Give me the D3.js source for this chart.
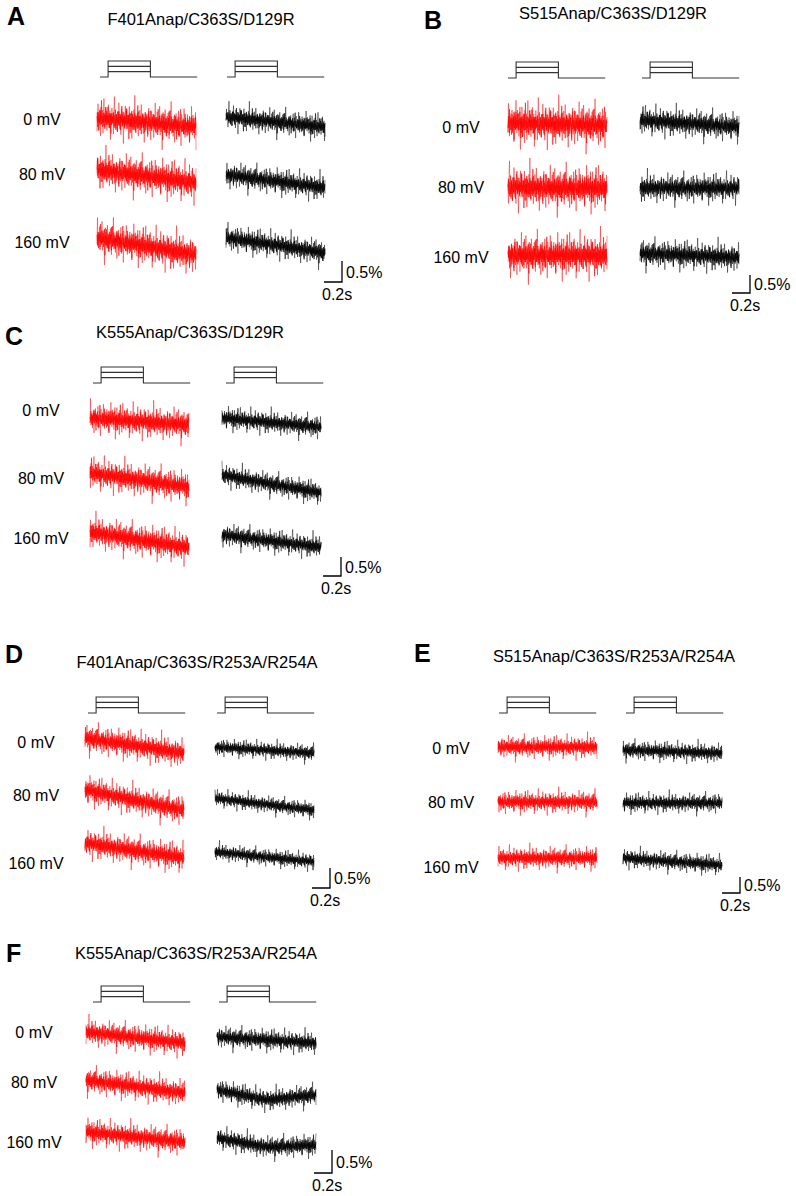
<!DOCTYPE html>
<html>
<head>
<meta charset="UTF-8">
<title>Anap traces</title>
<style>
  body { margin: 0; background: #fff; }
  text { font-family: "Liberation Sans", Arial, sans-serif; fill: #000; }
</style>
</head>
<body>
<div id="fig"></div>
<script src="https://d3js.org/d3.v7.min.js"></script>
<script>
// ---- data ----
const panelLetters = ["A", "B", "C", "D", "E", "F"];
const constructs = [
  "F401Anap/C363S/D129R",
  "S515Anap/C363S/D129R",
  "K555Anap/C363S/D129R",
  "F401Anap/C363S/R253A/R254A",
  "S515Anap/C363S/R253A/R254A",
  "K555Anap/C363S/R253A/R254A"
];
const voltages = ["0 mV", "80 mV", "160 mV"];
const protocolMv = [-80, 0, 80, 160];          // holding, then step levels
const protocolTimes = [0, 0.09, 0.56, 1.08];   // s: start, step on, step off, end
const traceDuration = 1.1;                     // s
const scaleBarPct = 0.5;
const scaleBarSec = 0.2;

// fluorescence noise samples (arbitrary units, read as texture)
const noise = [
  2,-3,5,-1,-4,3,1,-6,4,-2,0,3,-5,2,7,-3,-1,4,-2,1,
  -4,2,-1,5,-3,0,3,-7,2,-2,4,-1,1,-5,3,8,-2,0,-3,2,
  1,-4,3,-2,6,-1,-3,2,-5,4,0,-2,3,-8,1,2,-3,5,-1,-2,
  4,-1,-3,2,0,5,-4,1,-2,3,-6,2,1,-3,4,-1,9,-2,-4,1,
  -2,3,1,-5,2,-1,4,-3,0,6,-2,-1,3,-4,2,-7,1,3,-2,0,
  3,-2,-4,1,5,-3,2,-1,-6,4,1,-2,0,3,-5,2,-1,7,-3,1,
  -1,4,-3,2,-2,0,6,-4,1,-1,3,-9,2,4,-2,1,-3,5,-1,-4,
  2,0,-3,4,-1,-5,3,1,-2,8,-3,0,2,-4,1,3,-6,2,-1,4,
  -3,1,2,-2,5,-4,0,3,-1,-7,4,-2,1,2,-3,6,-1,-4,3,0,
  1,-2,4,-3,-1,2,-5,3,0,-2,7,-1,-3,4,-2,1,-4,2,5,-8
];
const noiseMax = 9;
const passOffsets = [0, 67, 131];   // sweeps overlaid per trace
const passGain = [1, 0.7, 0.5];

// baseline drift (ΔF/F %, start / middle / end) per panel, rows 0, 80, 160 mV
const redTrend = [
  [[0.02, -0.08, -0.19], [0.10, -0.05, -0.21], [0.10, -0.10, -0.31]],
  [[0.11, 0.08, 0.05], [0.00, -0.03, -0.03], [0.05, 0.05, 0.04]],
  [[-0.21, -0.30, -0.39], [0.13, -0.05, -0.24], [0.16, -0.05, -0.26]],
  [[0.10, -0.09, -0.28], [0.13, -0.13, -0.38], [0.50, 0.31, 0.13]],
  [[0.03, 0.03, 0.03], [0.00, 0.00, 0.00], [0.28, 0.28, 0.28]],
  [[0.00, -0.12, -0.24], [0.04, -0.10, -0.24], [0.22, 0.11, 0.00]]
];
const blackTrend = [
  [[0.05, -0.07, -0.19], [-0.02, -0.17, -0.33], [0.10, -0.07, -0.26]],
  [[0.19, 0.10, 0.00], [-0.02, -0.03, -0.03], [0.10, 0.05, -0.02]],
  [[-0.21, -0.33, -0.45], [0.08, -0.16, -0.39], [0.08, -0.08, -0.24]],
  [[-0.13, -0.20, -0.28], [-0.08, -0.23, -0.38], [0.28, 0.15, 0.03]],
  [[-0.06, -0.11, -0.16], [-0.03, -0.03, -0.03], [0.28, 0.17, 0.06]],
  [[-0.11, -0.17, -0.24], [-0.17, -0.39, -0.28], [0.09, -0.11, -0.07]]
];
const redNoiseAmp = [0.62, 0.82, 0.58, 0.50, 0.48, 0.40];
const blackNoiseAmp = [0.43, 0.55, 0.42, 0.30, 0.42, 0.33];

// ---- layout (pixels) ----
const layout = [
  { letter: [7, 25],   title: [201, 25],  protoY: 77,   protoX: [100, 227], labelX: 42,  rowY: [119, 174, 242],    traceX: [97, 226],  pxPct: 42, bar: [342, 282] },
  { letter: [424, 29], title: [613, 19],  protoY: 78,   protoX: [508, 642], labelX: 461, rowY: [127, 187, 257],    traceX: [508, 640], pxPct: 36, bar: [750, 293] },
  { letter: [5, 345],  title: [190, 338], protoY: 383,  protoX: [93, 226],  labelX: 41,  rowY: [410, 478, 538],    traceX: [90, 222],  pxPct: 38, bar: [341, 576] },
  { letter: [5, 663],  title: [197, 668], protoY: 713,  protoX: [88, 217],  labelX: 36,  rowY: [742, 795, 863],    traceX: [85, 215],  pxPct: 40, bar: [330, 888] },
  { letter: [414, 662], title: [614, 662], protoY: 713, protoX: [499, 626], labelX: 451, rowY: [748, 802, 867],    traceX: [498, 623], pxPct: 32, bar: [740, 893] },
  { letter: [6, 962],  title: [196, 959], protoY: 1002, protoX: [93, 219],  labelX: 34,  rowY: [1032, 1082, 1142], traceX: [86, 217],  pxPct: 46, bar: [332, 1173] }
];
const pxPerSec = 90;
const protoHeight = 16;
const fontSize = 16;

const width = 796, height = 1196;
const svg = d3.select("#fig").append("svg")
  .attr("width", width).attr("height", height);

panelLetters.forEach(function(letter, p) {
  const L = layout[p];
  const g = svg.append("g");

  g.append("text").attr("x", L.letter[0]).attr("y", L.letter[1])
    .attr("font-size", 25).attr("font-weight", "bold").text(letter);
  g.append("text").attr("x", L.title[0]).attr("y", L.title[1])
    .attr("text-anchor", "middle").attr("font-size", 16.5).text(constructs[p]);

  // voltage protocols
  const py = d3.scaleLinear().domain([protocolMv[0], protocolMv[3]])
    .range([L.protoY, L.protoY - protoHeight]);
  L.protoX.forEach(function(x0) {
    const px = d3.scaleLinear().domain([0, 1]).range([x0, x0 + pxPerSec]);
    const t = protocolTimes, hold = protocolMv[0], top = protocolMv[protocolMv.length - 1];
    let d = "M" + px(t[0]) + "," + py(hold) + "H" + px(t[1]) + "V" + py(top) +
            "H" + px(t[2]) + "V" + py(hold) + "H" + px(t[3]);
    protocolMv.slice(1, -1).forEach(function(v) {
      d += "M" + px(t[1]) + "," + py(v) + "H" + px(t[2]);
    });
    g.append("path").attr("d", d).attr("fill", "none")
      .attr("stroke", "#333").attr("stroke-width", 1.1);
  });

  // traces
  const y = d3.scaleLinear().domain([0, 1]).range([0, -L.pxPct]);
  voltages.forEach(function(v, r) {
    g.append("text").attr("x", L.labelX).attr("y", L.rowY[r] + 6)
      .attr("text-anchor", "middle").attr("font-size", fontSize).text(v);

    [[redTrend, redNoiseAmp, "#ff0000"], [blackTrend, blackNoiseAmp, "#000000"]].forEach(function(s, c) {
      const trend = d3.scaleLinear().domain([0, traceDuration / 2, traceDuration]).range(s[0][p][r]);
      const amp = s[1][p];
      const x = d3.scaleLinear().domain([0, traceDuration])
        .range([L.traceX[c], L.traceX[c] + pxPerSec * traceDuration]);
      const n = noise.length;
      const base = ((p * 6 + r * 2 + c) * 29) % n;
      const line = d3.line()
        .x(function(d) { return x(d[0]); })
        .y(function(d) { return L.rowY[r] + y(d[1]); });
      passOffsets.forEach(function(po, k) {
        const pts = d3.range(n).map(function(i) {
          const t = i / (n - 1) * traceDuration;
          return [t, trend(t) + noise[(i + base + po) % n] / noiseMax * amp * passGain[k]];
        });
        g.append("path").attr("d", line(pts)).attr("fill", "none")
          .attr("stroke", s[2]).attr("stroke-width", 0.6)
          .attr("stroke-opacity", k === 0 ? 0.75 : 1);
      });
    });
  });

  // scale bar
  const bx = L.bar[0], by = L.bar[1];
  const vLen = L.pxPct * scaleBarPct, hLen = pxPerSec * scaleBarSec;
  g.append("path")
    .attr("d", "M" + (bx - hLen) + "," + by + "H" + bx + "V" + (by - vLen))
    .attr("fill", "none").attr("stroke", "#000").attr("stroke-width", 1.3);
  g.append("text").attr("x", bx + 4).attr("y", by - vLen / 2 + 6)
    .attr("font-size", fontSize).text(scaleBarPct + "%");
  g.append("text").attr("x", bx - hLen - 2).attr("y", by + 18)
    .attr("font-size", fontSize).text(scaleBarSec + "s");
});
</script>
</body>
</html>
